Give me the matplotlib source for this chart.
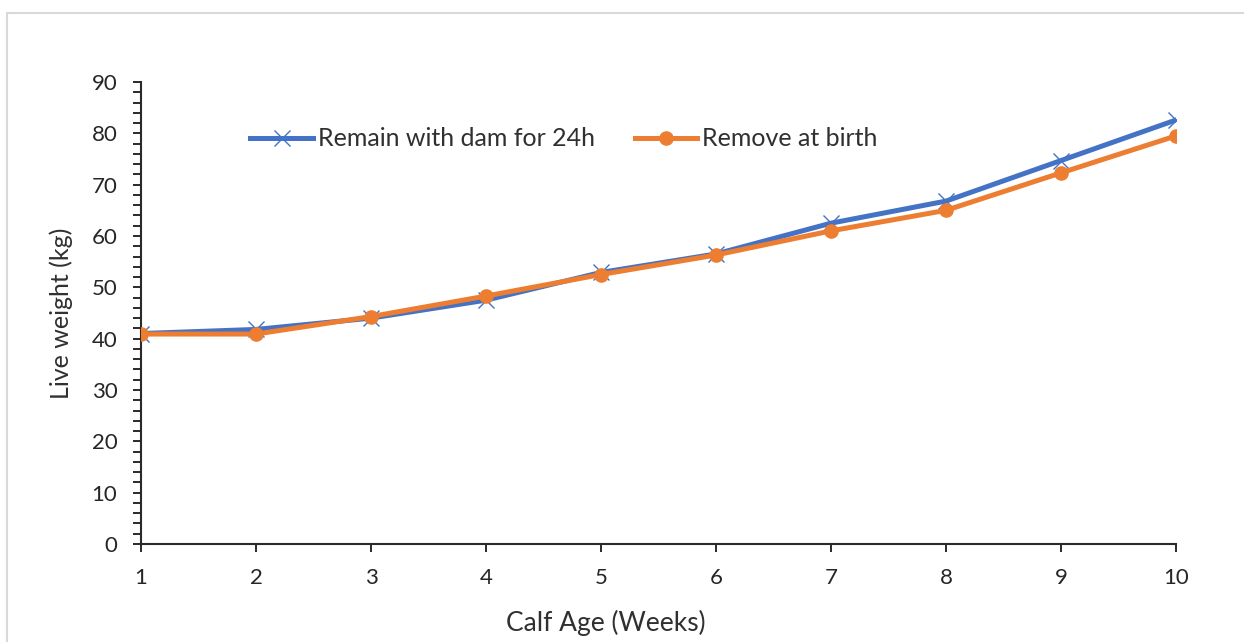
import matplotlib
matplotlib.use("Agg")
import matplotlib.pyplot as plt
from matplotlib.patches import Rectangle
from matplotlib.ticker import MultipleLocator

weeks = [1, 2, 3, 4, 5, 6, 7, 8, 9, 10]
remain_with_dam = [41.0, 41.8, 44.0, 47.5, 52.9, 56.5, 62.5, 66.8, 74.7, 82.6]
remove_at_birth = [40.9, 40.9, 44.3, 48.3, 52.5, 56.3, 61.0, 65.0, 72.3, 79.5]
series_labels = ["Remain with dam for 24h", "Remove at birth"]
x_label = "Calf Age (Weeks)"
y_label = "Live weight (kg)"

plt.rcParams['font.family'] = ['Lato', 'DejaVu Sans']

fig = plt.figure(figsize=(12.44, 6.42), dpi=100)
fig.patches.append(Rectangle((7/1244, -0.1), 1.2, 1.1 - 13/642, transform=fig.transFigure,
                             fill=False, edgecolor='#d9d9d9', linewidth=1.5, zorder=0))
ax = fig.add_axes([141/1244, 1 - 544/642, (1176 - 141)/1244, (544 - 82)/642])

ax.plot(weeks, remain_with_dam, color='#4472C4', linewidth=3.6, marker='x',
        markersize=11.5, markeredgewidth=1.0, label=series_labels[0], zorder=3)
ax.plot(weeks, remove_at_birth, color='#ED7D31', linewidth=3.6, marker='o',
        markersize=9.5, label=series_labels[1], zorder=4)

ax.set_xlim(1, 10)
ax.set_ylim(0, 90)
ax.set_xticks(weeks)
ax.yaxis.set_major_locator(MultipleLocator(10))
ax.yaxis.set_minor_locator(MultipleLocator(2))

for s in ['top', 'right']:
    ax.spines[s].set_visible(False)
for s in ['left', 'bottom']:
    ax.spines[s].set_color('#2a2a2a')
    ax.spines[s].set_linewidth(1.5)

ax.tick_params(axis='both', which='both', color='#2a2a2a', width=1.4,
               labelsize=16, labelcolor='#262626', direction='out')
ax.tick_params(axis='y', which='major', length=6, pad=11)
ax.tick_params(axis='y', which='minor', length=5.5)
ax.tick_params(axis='x', which='major', length=6, pad=11)

ax.set_xlabel(x_label, fontsize=19, color='#303030')
ax.set_ylabel(y_label, fontsize=18, color='#303030')
ax.xaxis.set_label_coords((606 - 141) / 1035, -0.143)
ax.yaxis.set_label_coords((73 - 141) / 1035, 0.5)

leg = ax.legend(loc='center', bbox_to_anchor=((564 - 141) / 1035, (544 - 139) / 462),
                ncol=2, frameon=False, fontsize=18, handlelength=2.5,
                handletextpad=0.2, columnspacing=1.6, borderaxespad=0)
for t in leg.get_texts():
    t.set_color('#303030')

fig.savefig('out.png', dpi=100)
